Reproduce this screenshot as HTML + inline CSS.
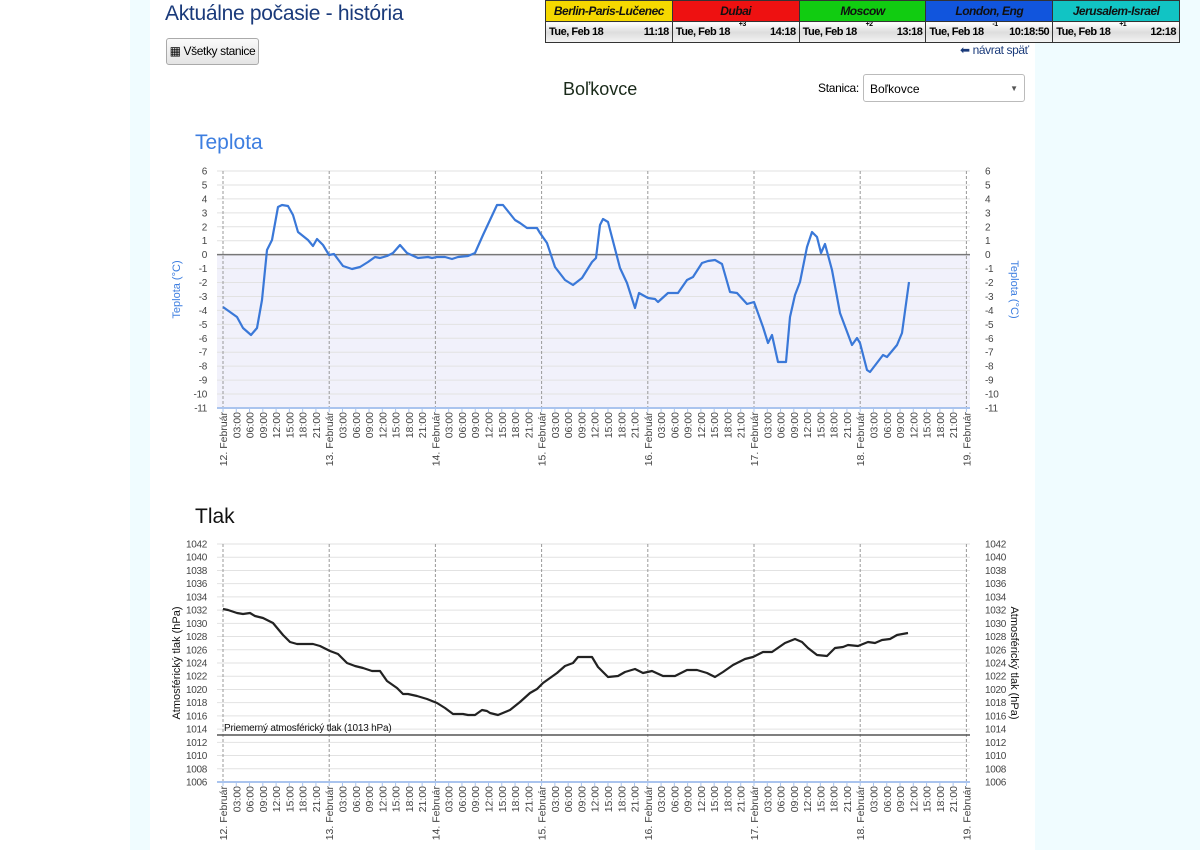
<!DOCTYPE html>
<html><head><meta charset="utf-8">
<style>
body{margin:0;width:1200px;height:850px;overflow:hidden;background:#fff;font-family:"Liberation Sans",sans-serif;position:relative}
.side{position:absolute;top:0;height:850px;background:#f0fcff}
.abs{position:absolute;white-space:nowrap}
table.clk{position:absolute;left:545px;top:0;border-collapse:collapse;font-family:"Liberation Sans",sans-serif;font-weight:bold;table-layout:fixed;width:635px}
table.clk td{padding:0 3px;border:1px solid #333;box-sizing:border-box;white-space:nowrap;overflow:hidden;letter-spacing:-0.5px}
.h td{font-style:italic;text-align:center;font-size:12px;color:#111;height:21px}
.t td{background:linear-gradient(#fff,#ddd 50%,#f4f4f4);font-size:11px;position:relative;height:21px}
.t span{float:right}
.t sup{position:absolute;left:66px;top:-1px;font-size:7px}
</style></head><body>
<div class="side" style="left:130px;width:20px"></div>
<div class="side" style="left:1035px;width:165px"></div>
<div class="abs" style="left:165px;top:2px;font-size:21px;color:#1a3a7a;letter-spacing:-0.3px">Aktuálne počasie - história</div>
<div class="abs" style="left:166px;top:38px;width:91px;height:25px;border:1px solid #aaa;border-radius:3px;background:linear-gradient(#fafafa,#e4e4e4);font-size:12px;line-height:25px;text-align:center;letter-spacing:-0.4px">&#9638; Všetky stanice</div>
<table class="clk">
<tr class="h"><td style="background:#f5d800">Berlin-Paris-Lučenec</td><td style="background:#ee1111">Dubai</td><td style="background:#11cc11">Moscow</td><td style="background:#1155dd">London, Eng</td><td style="background:#11c4c4">Jerusalem-Israel</td></tr>
<tr class="t"><td>Tue, Feb 18<span>11:18</span></td><td>Tue, Feb 18<sup>+3</sup><span>14:18</span></td><td>Tue, Feb 18<sup>+2</sup><span>13:18</span></td><td>Tue, Feb 18<sup>-1</sup><span>10:18:50</span></td><td>Tue, Feb 18<sup>+1</sup><span>12:18</span></td></tr>
</table>
<div class="abs" style="left:960px;top:43px;font-size:12px;color:#1a3a7a;letter-spacing:-0.4px">&#11013; návrat späť</div>
<div class="abs" style="left:563px;top:79px;font-size:18px;color:#1a2a1a">Boľkovce</div>
<div class="abs" style="left:818px;top:81px;font-size:12px;letter-spacing:-0.3px">Stanica:</div>
<div class="abs" style="left:863px;top:74px;width:162px;height:28px;border:1px solid #bbb;border-radius:3px;font-size:12px;line-height:28px;box-sizing:border-box;padding-left:6px">Boľkovce<span style="position:absolute;right:6px;font-size:8px;color:#555">&#9660;</span></div>
<div class="abs" style="left:195px;top:131px;font-size:21px;color:#3d7ee0">Teplota</div>
<div class="abs" style="left:195px;top:505px;font-size:21px;color:#111">Tlak</div>
<svg id="s" class="abs" style="left:0;top:0" width="1200" height="850" xmlns="http://www.w3.org/2000/svg" font-family="Liberation Sans, sans-serif"></svg>
<script>
var s=document.getElementById('s'),o='';
var X0=217,X1=970;
function chart(vmin,vmax,step,ytop,ybot,fillBelow,zeroY,lab,labCol){
  var n=(vmax-vmin)/step,h=(ybot-ytop)/n;
  if(fillBelow) o+='<rect x="'+X0+'" y="'+zeroY+'" width="'+(X1-X0)+'" height="'+(ybot-zeroY)+'" fill="#f1f1fb"/>';
  for(var i=0;i<=n;i++){var y=ytop+i*h,v=vmax-i*step;
    o+='<line x1="'+X0+'" x2="'+X1+'" y1="'+y+'" y2="'+y+'" stroke="#e2e2e2"/>';
    o+='<text x="207" y="'+(y+3.5)+'" font-size="10" text-anchor="end" fill="#444" letter-spacing="-0.3">'+v+'</text>';
    o+='<text x="985" y="'+(y+3.5)+'" font-size="10" fill="#444" letter-spacing="-0.3">'+v+'</text>';}
  for(var k=0;k<8;k++){var x=223+k*106.2;
    o+='<line x1="'+x+'" x2="'+x+'" y1="'+ytop+'" y2="'+ybot+'" stroke="#999" stroke-dasharray="3,2"/>';}
  o+='<line x1="'+X0+'" x2="'+X1+'" y1="'+ybot+'" y2="'+ybot+'" stroke="#aac4ee" stroke-width="2"/>';
  var hrs=['03:00','06:00','09:00','12:00','15:00','18:00','21:00'];
  for(var i=0;i<=56;i++){var x=223+i*13.275,t=(i%8==0)?(12+i/8)+'. Február':hrs[i%8-1];
    o+='<line x1="'+x+'" x2="'+x+'" y1="'+ybot+'" y2="'+(ybot+4)+'" stroke="#aac4ee"/>';
    o+='<text transform="translate('+(x+4)+','+(ybot+4)+') rotate(-90)" font-size="10.5" text-anchor="end" fill="#444">'+t+'</text>';}
  var cy=(ytop+ybot)/2;
  o+='<text transform="translate(180,'+cy+') rotate(-90)" font-size="11" text-anchor="middle" fill="'+labCol+'">'+lab+'</text>';
  o+='<text transform="translate(1011,'+cy+') rotate(90)" font-size="11" text-anchor="middle" fill="'+labCol+'">'+lab+'</text>';
}
chart(-11,6,1,171,408,true,254.6,'Teplota (°C)','#3d7ee0');
o+='<line x1="'+X0+'" x2="'+X1+'" y1="254.6" y2="254.6" stroke="#777" stroke-width="1.5"/>';
var tp="223,307 230,312 237,317 243,328 251,335 257,328 262,300 267,250 272,240 278,207 282,205 288,206 293,215 298,232 308,240 313,246 317,239 323,245 329,255 334,254 343,266 352,269 360,267 368,262 375,257 380,258 387,256 393,253 400,245 407,253 418,258 428,257 432,258 437,257 445,257 452,259 458,257 468,256 475,253 483,235 490,220 497,205 503,205 515,220 520,223 527,228 537,228 540,233 547,243 555,267 565,280 573,285 582,278 592,262 596,258 600,225 603,219 608,222 620,268 627,283 635,308 639,293 648,298 655,299 658,302 668,293 678,293 687,280 693,277 702,263 708,261 715,260 722,264 730,292 737,293 747,304 754,302 763,327 768,343 772,335 778,362 786,362 790,317 795,295 800,282 807,247 812,232 817,237 821,253 825,244 832,270 840,313 852,345 857,338 860,343 867,370 870,372 883,355 887,357 897,345 902,333 909,282";
o+='<polyline points="'+tp+'" fill="none" stroke="#3a78d8" stroke-width="2.2" stroke-linejoin="round"/>';
chart(1006,1042,2,544,782,false,0,'Atmosférický tlak (hPa)','#111');
o+='<line x1="'+X0+'" x2="'+X1+'" y1="735" y2="735" stroke="#555" stroke-width="1.5"/>';
o+='<text x="224" y="731" font-size="10" fill="#111" letter-spacing="-0.2">Priemerný atmosférický tlak (1013 hPa)</text>';
var pp="223,609 228,610 237,613 243,614 250,613 255,616 263,618 273,623 283,635 290,642 297,644 303,644 313,644 320,646 330,651 338,654 347,663 355,666 363,668 372,671 380,671 387,681 397,688 403,694 408,694 417,696 427,699 437,703 445,708 453,714 463,714 468,715 475,715 482,710 487,711 490,713 498,715 510,710 520,702 530,693 537,689 543,683 557,673 565,666 573,663 578,657 592,657 598,667 608,677 618,676 625,672 635,669 643,673 652,671 663,676 675,676 687,670 697,670 707,673 715,677 723,672 733,665 745,659 753,657 763,652 772,652 785,643 795,639 802,642 808,648 817,655 827,656 835,648 843,647 848,645 858,646 868,642 875,643 882,640 890,639 897,635 908,633";
o+='<polyline points="'+pp+'" fill="none" stroke="#222" stroke-width="2.2" stroke-linejoin="round"/>';
s.innerHTML=o;
</script>
</body></html>
